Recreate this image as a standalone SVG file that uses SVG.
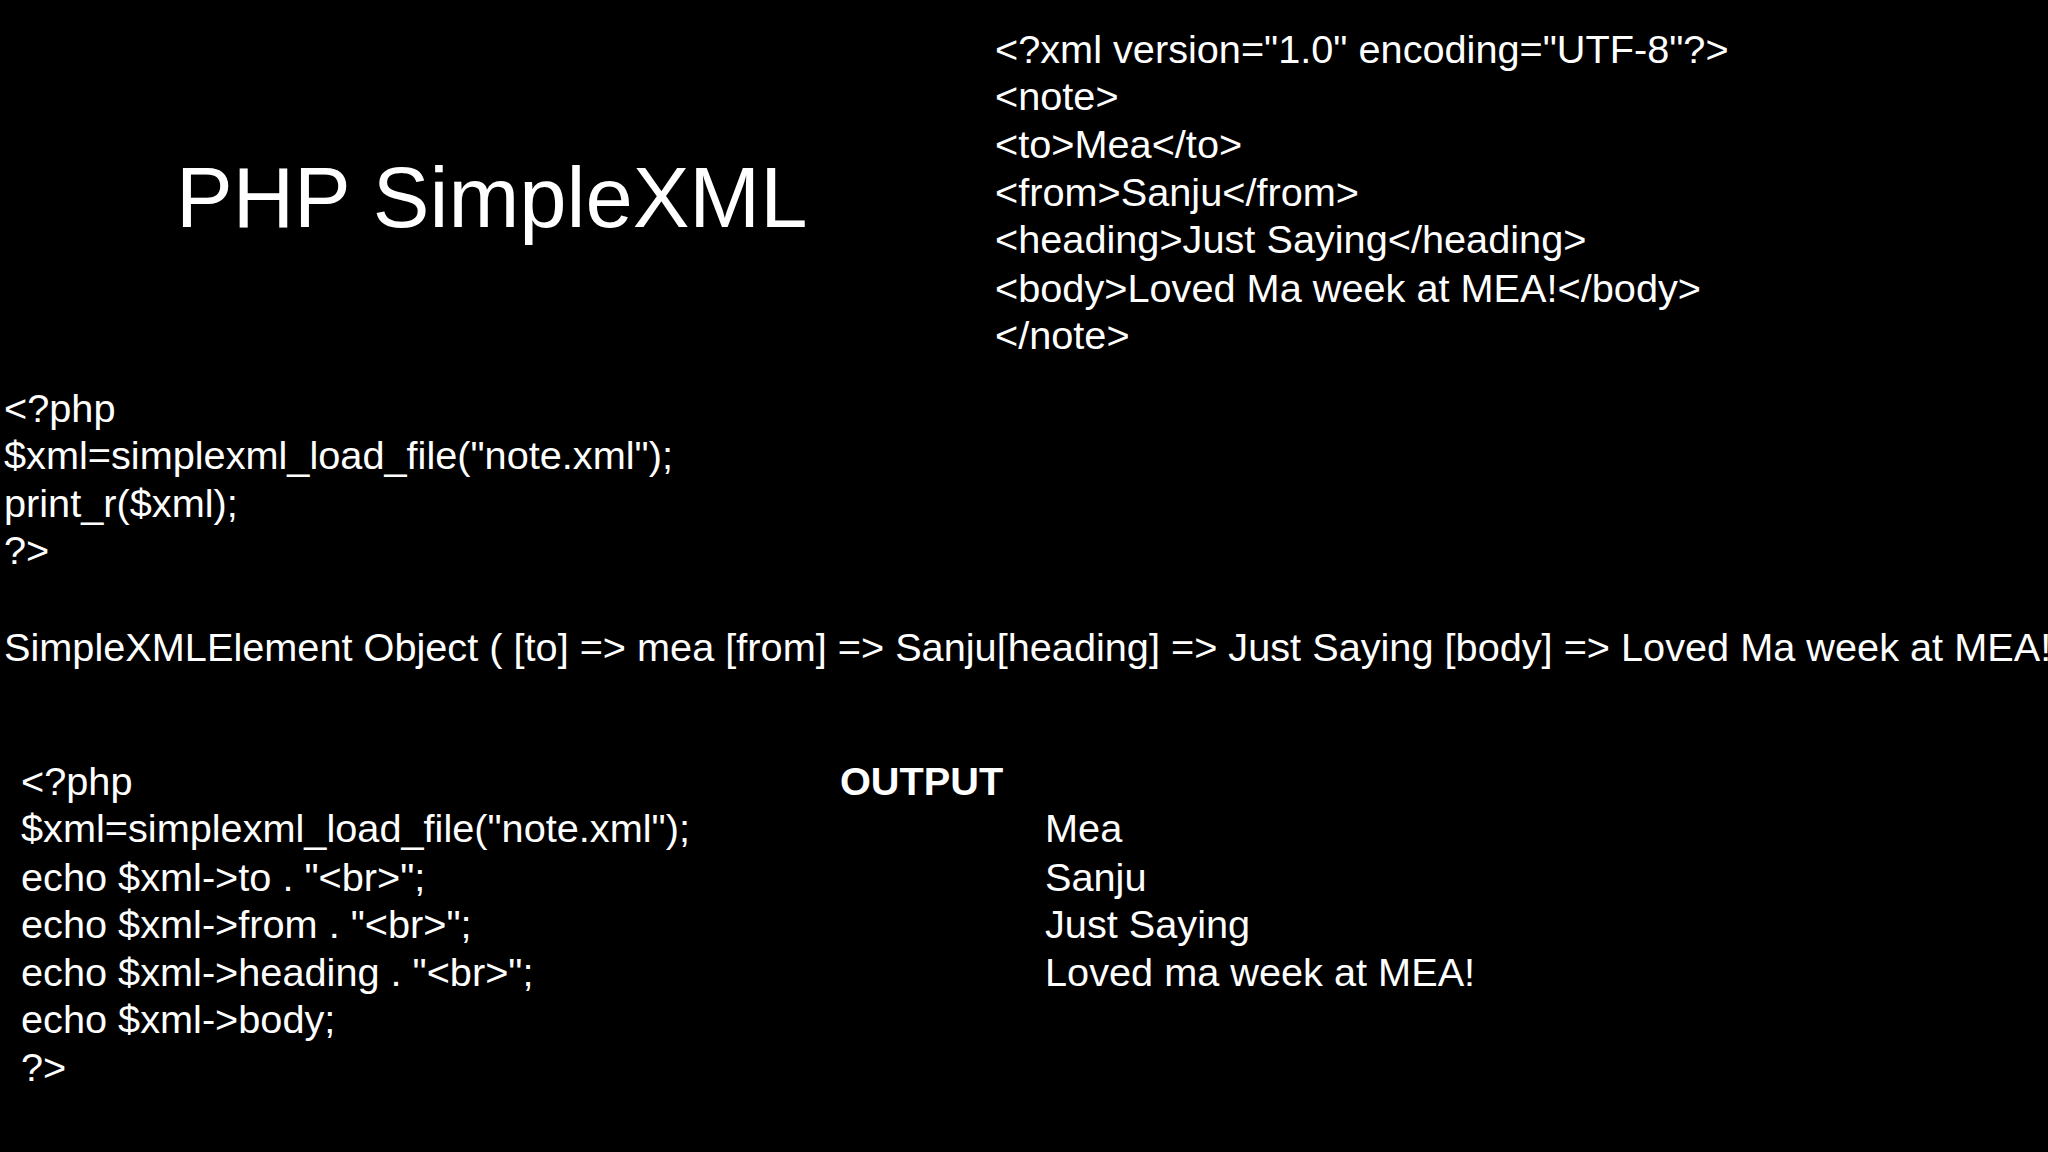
<svg xmlns="http://www.w3.org/2000/svg" width="2048" height="1152" viewBox="0 0 2048 1152">
<style>
text{font-family:"Liberation Sans",Arial,sans-serif;fill:#fff;font-size:39.7px}
.t{font-size:85px}
.b{font-weight:bold}
</style>
<rect width="2048" height="1152" fill="#000"/>
<g id="title"><text class="t" x="176" y="227">PHP SimpleXML</text></g>
<g id="xml">
<text x="995" y="63">&lt;?xml version="1.0" encoding="UTF-8"?&gt;</text>
<text x="995" y="110">&lt;note&gt;</text>
<text x="995" y="158">&lt;to&gt;Mea&lt;/to&gt;</text>
<text x="995" y="206">&lt;from&gt;Sanju&lt;/from&gt;</text>
<text x="995" y="253">&lt;heading&gt;Just Saying&lt;/heading&gt;</text>
<text x="995" y="302">&lt;body&gt;Loved Ma week at MEA!&lt;/body&gt;</text>
<text x="995" y="349">&lt;/note&gt;</text>
</g>
<g id="php1">
<text x="4" y="422">&lt;?php</text>
<text x="4" y="469">$xml=simplexml_load_file("note.xml");</text>
<text x="4" y="517">print_r($xml);</text>
<text x="4" y="564">?&gt;</text>
</g>
<g id="result"><text x="4" y="661">SimpleXMLElement Object ( [to] =&gt; mea [from] =&gt; Sanju[heading] =&gt; Just Saying [body] =&gt; Loved Ma week at MEA! )</text></g>
<g id="php2">
<text x="21" y="795">&lt;?php</text>
<text x="21" y="842">$xml=simplexml_load_file("note.xml");</text>
<text x="21" y="891">echo $xml-&gt;to . "&lt;br&gt;";</text>
<text x="21" y="938">echo $xml-&gt;from . "&lt;br&gt;";</text>
<text x="21" y="986">echo $xml-&gt;heading . "&lt;br&gt;";</text>
<text x="21" y="1033">echo $xml-&gt;body;</text>
<text x="21" y="1081">?&gt;</text>
</g>
<g id="output">
<text class="b" x="840" y="795">OUTPUT</text>
<text x="1045" y="842">Mea</text>
<text x="1045" y="891">Sanju</text>
<text x="1045" y="938">Just Saying</text>
<text x="1045" y="986">Loved ma week at MEA!</text>
</g>
</svg>
